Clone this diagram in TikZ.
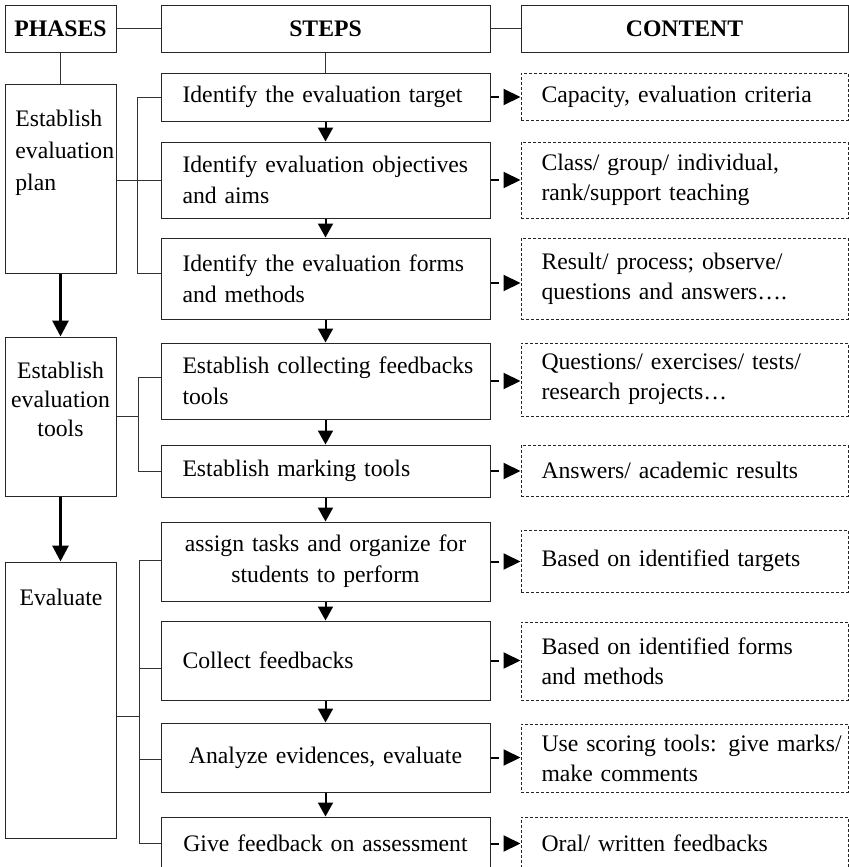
\documentclass[tikz,border=0pt]{standalone}
\usepackage{fontspec}
\setmainfont{Liberation Serif}
\usetikzlibrary{arrows.meta,calc}
\newcommand\jline[1]{\makebox[143pt][s]{#1}}
\begin{document}
\begin{tikzpicture}[x=0.5pt,y=-0.5pt,
  every node/.style={font=\fontsize{11.85}{15.5}\selectfont, inner sep=0pt},
  hdr/.style={draw=black!85, line width=0.5pt, minimum height=23.5pt, font=\fontsize{11.85}{15.5}\selectfont\bfseries},
  stepbox/.style={draw=black!85, line width=0.5pt, minimum width=164.5pt, text width=143pt, align=left},
  contbox/.style={draw=black!85, line width=0.5pt, dash pattern=on 1.5pt off 1pt, minimum width=163.5pt, text width=143pt, align=left, font=\fontsize{11.85}{15}\selectfont},
  phasebox/.style={draw=black!85, line width=0.5pt, minimum width=55.5pt},
  link/.style={draw=black!80, line width=0.5pt},
  stepar/.style={line width=1pt, -{Triangle[length=7pt,width=7.5pt]}},
  phasear/.style={line width=1.5pt, -{Triangle[length=8pt,width=8pt]}},
  contar/.style={line width=1pt, dash pattern=on 4pt off 2.5pt, -{Triangle[length=8.5pt,width=8pt]}}]
\useasboundingbox (0,0) rectangle (849,867);
\clip (0,0) rectangle (849,867);

% headers
\node[hdr, minimum width=55.5pt] (hp) at (60.5,28.5) {PHASES};
\node[hdr, minimum width=164.5pt] (hs) at (325.5,28.5) {STEPS};
\node[hdr, minimum width=163.5pt] (hc) at (684.5,28.5) {CONTENT};

% phases
\node[phasebox, minimum height=94.5pt] (p1) at (60.5,178.5) {};
\node[phasebox, minimum height=79.5pt] (p2) at (60.5,416.5) {};
\node[phasebox, minimum height=138pt] (p3) at (60.5,700) {};
\node[anchor=north west, align=left, font=\fontsize{11.85}{16}\selectfont] (p1t) at (15,110) {Establish\\evaluation\\plan};
\node[anchor=north, align=center, font=\fontsize{11.85}{14.5}\selectfont] (p2t) at (60.5,362) {Establish\\evaluation\\tools};
\node[anchor=north] (p3t) at (61,589) {Evaluate};

% steps
\node[stepbox, minimum height=24pt] (s1) at (325.5,97) {\mbox{Identify the evaluation target}};
\node[stepbox, minimum height=38pt] (s2) at (325.5,180) {\jline{Identify evaluation objectives}\\and aims};
\node[stepbox, minimum height=40.5pt] (s3) at (325.5,278.5) {\mbox{Identify the evaluation forms}\\and methods};
\node[stepbox, minimum height=38pt] (s4) at (325.5,381) {\mbox{Establish collecting feedbacks}\\tools};
\node[stepbox, minimum height=26pt] (s5) at (325.5,471) {Establish marking tools};
\node[stepbox, minimum height=39.5pt, align=center] (s6) at (325.5,561.5) {\mbox{assign tasks and organize for}\\students to perform};
\node[stepbox, minimum height=39.5pt] (s7) at (325.5,660.5) {Collect feedbacks};
\node[stepbox, minimum height=34.5pt, align=center] (s8) at (325.5,757.5) {Analyze evidences, evaluate};
\node[stepbox, minimum height=26.5pt, align=center] (s9) at (325.5,843.5) {\mbox{Give feedback on assessment}};

% content
\node[contbox, minimum height=23.5pt] (c1) at (684.5,96.5) {\mbox{Capacity, evaluation criteria}};
\node[contbox, minimum height=38pt] (c2) at (684.5,180) {\jline{Class/ group/ individual,}\\rank/support teaching};
\node[contbox, minimum height=40.5pt] (c3) at (684.5,278.5) {\mbox{Result/ process; observe/}\\\mbox{questions and answers….}};
\node[contbox, minimum height=36.5pt] (c4) at (684.5,379.5) {\mbox{Questions/ exercises/ tests/}\\research projects…};
\node[contbox, minimum height=25.5pt] (c5) at (684.5,470.5) {Answers/ academic results};
\node[contbox, minimum height=31pt] (c6) at (684.5,561) {Based on identified targets};
\node[contbox, minimum height=39pt] (c7) at (684.5,661) {\jline{Based on identified forms}\\and methods};
\node[contbox, minimum height=34pt] (c8) at (684.5,758) {\mbox{Use scoring tools: give marks/}\\make comments};
\node[contbox, minimum height=26.5pt] (c9) at (684.5,843.5) {Oral/ written feedbacks};

% header links
\draw[link] (hp) -- (hs);
\draw[link] (hs) -- (hc);
\draw[link] (hp.south) -- (p1.north);
\draw[link] (hs.south) -- (s1.north);

% brackets
\coordinate (b1) at (137,0);
\coordinate (b2) at (138,0);
\coordinate (b3) at (139,0);
\coordinate (s3a) at ([yshift=2.75pt]s3.west);
\draw[link] (s1.west) -| (b1 |- s3a) -- (s3a);
\draw[link] (p1.east |- s2.west) -- (s2.west);

\coordinate (s4a) at ([yshift=2pt]s4.west);
\draw[link] (s4a) -| (b2 |- s5.west) -- (s5.west);
\draw[link] (p2.east) -- (p2.east -| b2);

\coordinate (s6a) at ([yshift=0.75pt]s6.west);
\coordinate (s7a) at ([yshift=-3.75pt]s7.west);
\coordinate (s8a) at ([yshift=-0.75pt]s8.west);
\coordinate (p3a) at ([yshift=-8pt]p3.east);
\draw[link] (s6a) -| (b3 |- s9.west) -- (s9.west);
\draw[link] (s7a) -- (s7a -| b3);
\draw[link] (s8a) -- (s8a -| b3);
\draw[link] (p3a) -- (p3a -| b3);

% phase arrows
\draw[phasear] (p1.south) -- (p2.north);
\draw[phasear] (p2.south) -- (p3.north);

% step arrows
\foreach \a/\b in {s1/s2,s2/s3,s3/s4,s4/s5,s5/s6,s6/s7,s7/s8,s8/s9}
  \draw[stepar] (\a.south) -- (\b.north);

% content arrows
\coordinate (s3e) at ([yshift=-2.25pt]s3.east);
\draw[contar] (s3e) -- (s3e -| c3.west);
\foreach \i in {1,2,4,5,6,7,8,9}
  \draw[contar] (s\i.east) -- (s\i.east -| c\i.west);
\end{tikzpicture}
\end{document}
